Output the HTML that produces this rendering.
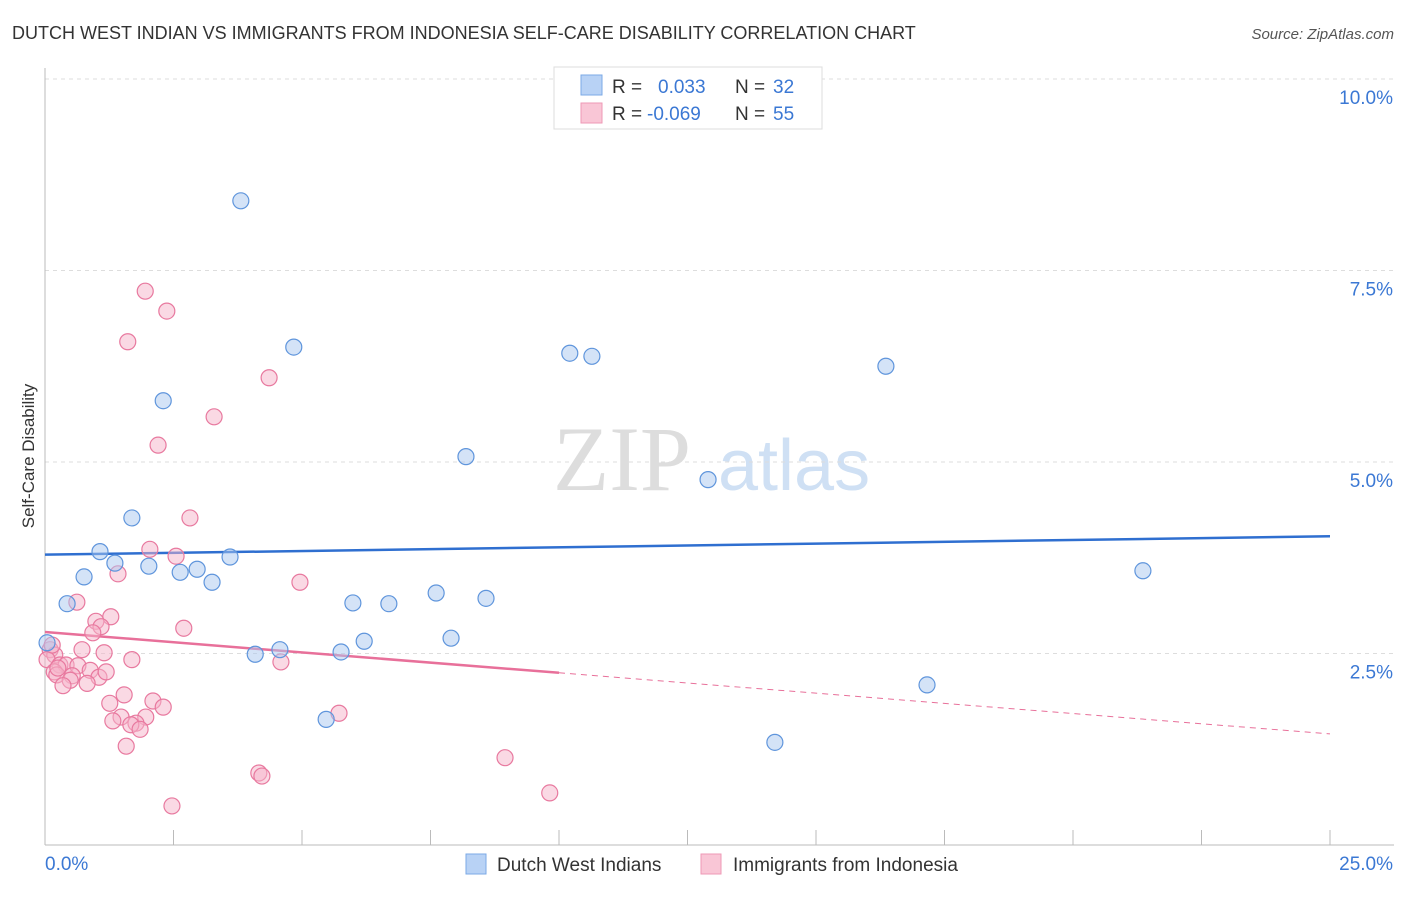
<!DOCTYPE html>
<html><head><meta charset="utf-8">
<style>
body{margin:0;background:#fff;font-family:"Liberation Sans",sans-serif;}
svg text{font-family:"Liberation Sans",sans-serif;}
</style></head>
<body>
<svg id="chart" width="1406" height="892" xmlns="http://www.w3.org/2000/svg">
<text x="12" y="39" font-size="18" fill="#333">DUTCH WEST INDIAN VS IMMIGRANTS FROM INDONESIA SELF-CARE DISABILITY CORRELATION CHART</text>
<text x="1394" y="39" font-size="15" fill="#555" text-anchor="end" font-style="italic">Source: ZipAtlas.com</text>
<g>
<text x="553" y="490" font-size="92" fill="#ddd" font-family="Liberation Serif" style="font-family:'Liberation Serif',serif">ZIP</text>
<text x="718" y="490" font-size="72" fill="#cfe0f4">atlas</text>
</g>
<g id="grid"></g>
<g id="axes"></g>
<g id="lines"></g>
<g id="points"></g>
<text transform="translate(34,456) rotate(-90)" font-size="17" fill="#333" text-anchor="middle">Self-Care Disability</text>
<g>
<rect x="554" y="67" width="268" height="62" fill="#fff" stroke="#ddd"/>
<rect x="581" y="75" width="21" height="20" fill="#b8d2f5" stroke="#7ba9e6"/>
<rect x="581" y="103" width="21" height="20" fill="#f9c6d6" stroke="#ee98b6"/>
<text x="612" y="93" font-size="19" fill="#333">R = </text><text x="658" y="93" font-size="19" fill="#3b78d4">0.033</text>
<text x="735" y="93" font-size="19" fill="#333">N = </text><text x="773" y="93" font-size="19" fill="#3b78d4">32</text>
<text x="612" y="120" font-size="19" fill="#333">R = </text><text x="647" y="120" font-size="19" fill="#3b78d4">-0.069</text>
<text x="735" y="120" font-size="19" fill="#333">N = </text><text x="773" y="120" font-size="19" fill="#3b78d4">55</text>
</g>
<g>
<rect x="466" y="854" width="20" height="20" fill="#b8d2f5" stroke="#7ba9e6"/>
<text x="497" y="871" font-size="19" fill="#333">Dutch West Indians</text>
<rect x="701" y="854" width="20" height="20" fill="#f9c6d6" stroke="#ee98b6"/>
<text x="733" y="871" font-size="19" fill="#333">Immigrants from Indonesia</text>
</g>
</svg>
<script>
const xTicks=[0,2.5,5,7.5,10,12.5,15,17.5,20,22.5,25];
const yTicks=[2.5,5,7.5,10];
const yTickLabels=["2.5%","5.0%","7.5%","10.0%"];
const blueX=[3.81,4.84,2.30,10.21,10.64,16.36,8.19,12.90,1.69,1.07,1.36,2.02,3.60,0.76,2.63,2.96,3.25,0.43,5.99,6.69,7.61,8.58,21.36,0.04,4.57,4.09,5.76,6.21,7.90,17.16,5.47,14.20];
const blueY=[8.41,6.50,5.80,6.42,6.38,6.25,5.07,4.77,4.27,3.83,3.68,3.64,3.76,3.50,3.56,3.60,3.43,3.15,3.16,3.15,3.29,3.22,3.58,2.64,2.55,2.49,2.52,2.66,2.70,2.09,1.64,1.34];
const pinkX=[1.95,2.37,1.61,4.36,3.29,2.20,2.82,2.04,2.55,1.42,4.96,0.62,1.28,0.99,1.09,0.93,2.70,0.72,1.15,1.69,4.59,0.10,0.19,0.04,0.29,0.41,0.18,0.23,0.64,0.53,0.88,1.05,0.49,0.35,0.82,1.19,1.54,1.26,2.10,2.30,1.48,1.32,1.96,1.77,1.67,1.85,1.58,5.72,8.95,4.16,4.22,2.47,9.82,0.14,0.25];
const pinkY=[7.23,6.97,6.57,6.10,5.59,5.22,4.27,3.86,3.77,3.54,3.43,3.17,2.98,2.92,2.85,2.77,2.83,2.55,2.51,2.42,2.39,2.55,2.48,2.42,2.35,2.35,2.26,2.22,2.34,2.21,2.28,2.19,2.15,2.08,2.11,2.26,1.96,1.85,1.88,1.80,1.67,1.62,1.67,1.59,1.57,1.51,1.29,1.72,1.14,0.94,0.90,0.51,0.68,2.61,2.31];
const blueTrend=[3.79,4.03];
const pinkTrend=[2.78,1.45];
const pinkSolidEnd=10;
const NS="http://www.w3.org/2000/svg";
const X=v=>45+v*(1285/25);
const Y=v=>845-v*76.6;
function mk(tag,attrs,parent){const e=document.createElementNS(NS,tag);for(const k in attrs)e.setAttribute(k,attrs[k]);document.getElementById(parent).appendChild(e);return e;}
yTicks.forEach((t,i)=>{
 const g=mk('line',{x1:45,x2:1394,y1:Y(t),y2:Y(t),stroke:'#ddd','stroke-dasharray':'4,4'},'grid');
 
 
 const l=mk('text',{x:1393,y:Y(t)+25,'font-size':19,fill:'#3b78d4','text-anchor':'end'},'axes');
 l.textContent=yTickLabels[i];
 
 
});
const ax=mk('line',{x1:45,x2:1394,y1:845,y2:845,stroke:'#bbb'},'axes');


const ay=mk('line',{x1:45,x2:45,y1:68,y2:845,stroke:'#bbb'},'axes');


xTicks.forEach(t=>{
 const e=mk('line',{x1:X(t),x2:X(t),y1:830,y2:845,stroke:'#bbb'},'axes');
 
 
});
const xl0=mk('text',{x:45,y:870,'font-size':19,fill:'#3b78d4'},'axes');xl0.textContent='0.0%';


const xl1=mk('text',{x:1393,y:870,'font-size':19,fill:'#3b78d4','text-anchor':'end'},'axes');xl1.textContent='25.0%';


function addPts(xs,ys,fill,stroke,name){xs.forEach((x,i)=>{
 const c=mk('circle',{cx:X(x),cy:Y(ys[i]),r:8,fill:fill,'fill-opacity':0.5,stroke:stroke,'stroke-width':1.2},'points');
 
 
});}
addPts(pinkX,pinkY,'#f6b3c9','#e8799f','indonesia-point');
addPts(blueX,blueY,'#a9c8f0','#5f95dc','dutch-west-indian-point');
const bl=mk('line',{x1:X(0),y1:Y(blueTrend[0]),x2:X(25),y2:Y(blueTrend[1]),stroke:'#2f6fd0','stroke-width':2.5},'lines');


const pAt=v=>pinkTrend[0]+(pinkTrend[1]-pinkTrend[0])*v/25;
const pl=mk('line',{x1:X(0),y1:Y(pinkTrend[0]),x2:X(pinkSolidEnd),y2:Y(pAt(pinkSolidEnd)),stroke:'#e8709a','stroke-width':2.5},'lines');


const pd=mk('line',{x1:X(pinkSolidEnd),y1:Y(pAt(pinkSolidEnd)),x2:X(25),y2:Y(pinkTrend[1]),stroke:'#e8709a','stroke-width':1,'stroke-dasharray':'6,5'},'lines');


</script>
</body></html>
